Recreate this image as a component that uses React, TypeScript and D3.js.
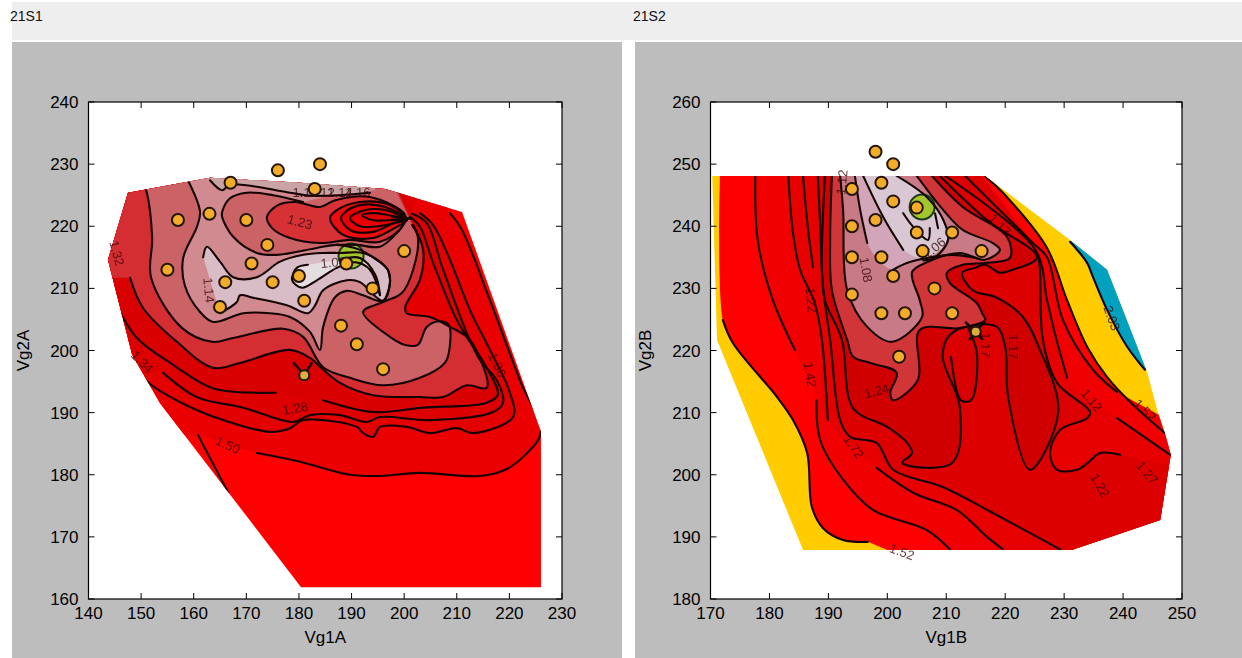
import React from "react";
import * as d3 from "d3";

type Pt = [number, number];
type Layer = { fill: string; a: Pt[]; close: Pt[]; b?: Pt[] };
type Lab = [string, number, number, number];

// ---------- Tick labels ----------
const xTicks1 = [140, 150, 160, 170, 180, 190, 200, 210, 220, 230];
const yTicks1 = [160, 170, 180, 190, 200, 210, 220, 230, 240];
const xTicks2 = [170, 180, 190, 200, 210, 220, 230, 240, 250];
const yTicks2 = [180, 190, 200, 210, 220, 230, 240, 250, 260];

// ---------- 21S1 (Vg1A, Vg2A) ----------
const points1: Pt[] = [[176, 229], [184, 230], [167, 227], [183, 226], [157, 221], [163, 222], [170, 221], [155, 213], [174, 217], [171, 214], [166, 211], [175, 211], [180, 212], [165, 207], [181, 208], [189, 214], [200, 216], [194, 210], [188, 204], [191, 201], [196, 197]];
const special1: Pt = [181, 196];
const green1: Pt = [189.9, 215.2];
const hull1: Pt[] = [[143.7, 214.6], [147.5, 225.4], [163.1, 227.8], [180.2, 227], [196.4, 226], [211, 222.3], [226, 186.9], [226, 161.9], [180.4, 161.9], [153.6, 191.5], [148.3, 199.3]];
const c1short: Pt[] = [[166.5, 177.2], [160.8, 186.4]];
const c1: Pt[] = [[172, 183.5], [180.2, 182.1], [189.7, 180], [195.4, 179.8], [203, 180.3], [214.4, 179.8], [219.2, 180.8], [223, 183.2], [226, 186.9], [222, 195.2], [216.3, 208.1], [211, 219.4], [208.7, 222.1]];
const c2: Pt[] = [[146.9, 199.8], [151.3, 194.9], [159.3, 190.9], [165.6, 188.8], [174.5, 186.9], [178.3, 187.5], [180.8, 188.8], [191, 187.7], [192.2, 186.7], [194.1, 186.1], [195.4, 187.7], [200.5, 187.7], [204.9, 186.7], [210, 187.5], [213.1, 186.7], [220.7, 189.3], [220.1, 193.2], [216.3, 200.1], [212.5, 206.5], [208.7, 214.6], [205.5, 220.2], [203, 222.1]];
const c3: Pt[] = [[154.2, 196.4], [160.6, 192.5], [169.4, 190.8], [178.9, 188.5], [182.1, 189.6], [187.8, 189.6], [192.9, 188.5], [195.4, 189.3], [204.9, 188.8], [216.9, 190.1], [218.8, 191.6], [217.6, 195.2], [214.4, 198.5], [211.9, 202.8], [207.2, 213.5], [204.3, 220.5], [201.5, 222]];
const c4a: Pt[] = [[145, 207.8], [149.2, 202], [156.1, 197.7], [163.7, 193.9], [175.6, 193.2]];
const c4b: Pt[] = [[184.6, 192], [194.1, 190.1], [203.6, 190.8], [215.7, 191.6], [217.8, 192.9], [215.7, 197.2], [211.9, 202.2], [210, 204.9], [205.5, 214.1], [203, 219.9], [201.1, 221.5]];
const c5: Pt[] = [[147.9, 211.7], [150.4, 206.8], [156.8, 201.4], [163.7, 197.2], [168.8, 198], [178.3, 200.1], [182.1, 198.8], [184, 197.4], [187.8, 194.8], [194.1, 192.8], [203, 192.5], [207.4, 192.5], [211.9, 194.4], [215.7, 194], [212.5, 201.7], [208.7, 203.8], [204.9, 205.4], [200.5, 206], [200.2, 207], [203, 211.4], [203.6, 216.2], [201.7, 220.2]];
const brightWedge: Pt[] = [[201.7, 220.2], [203.6, 216.2], [203, 211.4], [200.2, 207], [200.5, 206], [204.9, 205.4], [208.7, 203.8], [212.5, 201.7], [211.9, 202.2], [210, 204.9], [205.5, 214.1], [203, 219.9]];
const p1: Pt[] = [[150.2, 227.4], [151.1, 225.4], [152.1, 218.1], [151.9, 211.7], [157.8, 203.6], [163.5, 201.4], [167.5, 202], [177, 203.5], [180.8, 202.2], [184.6, 197.3], [189.7, 195.6], [196, 194.4], [203, 195.6], [207.8, 198.1], [208.7, 200.9], [208.5, 204.1], [206.8, 204.7], [204.3, 203.8], [202.6, 200.9], [200.2, 200.9], [197.3, 202.2], [192.2, 206.2], [196, 207.8], [199.6, 209.3], [201.7, 213], [202.6, 218.3], [201.5, 220.2]];
const p2: Pt[] = [[158.9, 227.4], [161.2, 222.3], [160.6, 219.9], [158, 214.9], [158.3, 210.5], [161.2, 206.2], [163.7, 204.6], [169.4, 206], [174.5, 206], [178.3, 205.4], [182.1, 203], [184, 200.1], [184.6, 203.8], [186.9, 208.6], [189.1, 209.6], [192.2, 208.9], [196, 208], [197.3, 210.9], [196.9, 213], [194.1, 215], [191.6, 216.2], [187.2, 217], [183.4, 216.5], [175.8, 215.4], [172, 215.7], [167.5, 218.3], [165.4, 221.5], [165.4, 222.3], [166.9, 224.5], [170.1, 225.4], [175.1, 225], [180.8, 223.9]];
const p2top: Pt[] = [[185.9, 224.9], [194.5, 225.8], [194.5, 232], [158.9, 232]];
const upperTail: Pt[] = [[187.2, 217], [191, 217], [195.4, 216.7], [198.6, 218.9], [199.6, 219.9]];
const topBand: Pt[] = [[163.1, 227.4], [165.4, 225.8], [166.9, 226.7], [178.3, 225.4], [182.5, 224.9], [193.5, 225.4]];
const whiteZone: Pt[] = [[161.8, 215], [162.5, 216.7], [165, 214.3], [167.5, 211.8], [172, 211.8], [176.4, 214.3], [180.8, 215.4], [184.6, 215.7], [187.8, 215.7], [192.2, 215.7], [195.4, 214.3], [196.9, 213], [197.3, 210.9], [196, 208], [194.8, 208.5], [191.6, 211], [189.1, 211.3], [184.6, 209.7], [183.1, 207.3], [181.7, 206], [177.7, 207.3], [171.3, 208.5], [168.8, 208.9], [168.2, 207.8], [165, 206]];
const inner1: Pt[] = [[181.7, 213.8], [179.6, 213.3], [178.7, 211.3], [180.6, 210.1], [183.4, 211.3], [187.2, 213.3], [190.7, 214.2], [193.5, 213], [195.4, 208.9], [194.5, 212.2], [191.6, 214.9], [187.8, 214.6]];
const warm1: Pt[] = [[173.9, 221.5], [176, 223.4], [179.3, 223.9], [184, 223.1], [186.9, 224.2], [193.5, 224.7], [200.2, 221.8], [199.6, 219.9], [195.4, 217.5], [189.7, 217.8], [184, 217.3], [178.3, 218.1], [174.9, 219.7]];
const ring1: Pt[] = [[185.9, 221.3], [188.4, 218.6], [194.1, 218.1], [198.6, 219.9], [200.5, 221], [197.3, 223.4], [191.6, 223.9], [187.2, 222.6]];
const ring2: Pt[] = [[188, 221.3], [189.7, 219.4], [194.1, 219.1], [198.3, 220.6], [200.5, 221], [196.4, 223.1], [191.6, 223.4], [188.8, 222.3]];
const ring3: Pt[] = [[189.7, 221.3], [191.6, 220], [195, 220], [199.2, 220.7], [200.5, 221], [196.4, 222.6], [192.6, 222.6]];
const ring4: Pt[] = [[192, 221.8], [193.9, 221], [198.3, 221], [200.5, 221], [196.4, 221.9], [193.5, 222.1]];
const focal1: Pt[] = [[197.7, 221.5], [201.5, 221.2]];
const star1a: Pt[] = [[178.9, 198.1], [181, 196.1], [182.5, 198.1]];
const labels1: Lab[] = [["1.23", 180.2, 220.7, 15], ["1.14", 162.9, 209.7, 85], ["1.32", 145.4, 215.7, 75], ["1.34", 150.2, 198.2, 45], ["1.50", 166.5, 184.8, 25], ["1.28", 179.3, 190.7, -10], ["1.36", 217.7, 197.7, 65], ["1.06", 186.5, 214.2, -5], ["1.11", 181.1, 225.4, 0], ["1.12", 184.4, 225.4, 0], ["1.14", 187.8, 225.4, 0], ["1.16", 191.2, 225.4, 0]];

// ---------- 21S2 (Vg1B, Vg2B) ----------
const points2: Pt[] = [[198, 252], [201, 250], [194, 246], [199, 247], [201, 244], [205, 243], [198, 241], [194, 240], [205, 239], [211, 239], [194, 235], [199, 235], [206, 236], [216, 236], [201, 232], [194, 229], [208, 230], [199, 226], [203, 226], [211, 226], [202, 219]];
const special2: Pt = [215, 223];
const green2: Pt = [205.9, 243.1];
const hull2: Pt[] = [[170.3, 248.1], [216.6, 248.1], [231, 237.8], [237.3, 233], [244.1, 216.5], [245.8, 210.4], [247.1, 206.7], [248.1, 203.2], [246.3, 192.7], [231.3, 187.9], [185.7, 187.9], [171.1, 221.7]];
const blueEdge: Pt[] = [[231, 237.5], [233.9, 234.1], [234.9, 231.8], [237.3, 226.5], [240.7, 220.6], [243.7, 216.9]];
const redUpper: Pt[] = [[216.6, 248.1], [220.3, 244.7], [227.1, 236.5], [230.5, 228.1], [233.9, 220.6], [237.3, 215.7], [241.2, 211.7], [247.1, 206.7]];
const redLower: Pt[] = [[196.7, 189.2], [192.5, 189.5], [189.1, 191.4], [187.2, 194.8], [186.4, 203.5], [184, 208.8], [181.3, 212.5], [173.8, 221.2], [172.1, 224.9]];
const r1: Pt[] = [[177.6, 248.1], [178, 237.8], [180.4, 228.6], [184.3, 220.1]];
const m1: Pt[] = [[188, 212], [188.6, 205.6], [192.5, 199.2], [197.6, 194.3], [206.7, 191.1], [210.6, 188]];
const r2: Pt[] = [[183.2, 248.1], [184, 238.9], [185.2, 233], [187.7, 227.6], [188.9, 221.7], [189.9, 208.8]];
const m2: Pt[] = [[198.2, 201.1], [204.4, 197.1], [211.8, 194.3], [216.9, 190], [219.6, 188]];
const m3: Pt[] = [[188.2, 248.1], [188.6, 240.5], [189.1, 230.2], [190.3, 221.7], [192, 208.8], [193.7, 206.1], [198.2, 205.1], [201, 200.8], [209.5, 198], [218, 193.8], [229.3, 188]];
const rShort: Pt[] = [[185.7, 248.1], [186.5, 239.9], [187.4, 233.4]];
const n1: Pt[] = [[213.2, 248.1], [224.7, 237.3], [227.1, 235], [229.8, 224.9], [234.9, 216.9], [239, 213.3]];
const n2a: Pt[] = [[209.8, 248.1], [225.1, 236.2], [227.1, 228.1], [228.5, 222.5], [230.5, 215.6]];
const n2b: Pt[] = [[239, 209.1], [248, 203.2]];
const n3: Pt[] = [[225.6, 235.4], [225.9, 233], [226.4, 221.7], [228.8, 214.8], [234.4, 210.1], [233.9, 209.1], [229.3, 207.2], [227.6, 203.5], [228.8, 200.8], [232.2, 200.8], [234, 201.9], [236.1, 203.5], [239.5, 203.2]];
const d2: Pt[] = [[189.4, 248.1], [188.9, 233], [189.4, 228.1], [192.3, 221.7], [194.2, 210.7], [200, 207.7], [203.4, 205.1], [204.2, 203.5], [202.5, 201.9], [211, 201.9], [212.3, 210.9], [209.4, 219], [210.6, 222.5], [214.9, 224.1], [218.6, 223.8], [220, 220.6], [220.5, 212.5], [224.2, 200.8], [229, 210.1], [225.9, 220.1], [223, 225.4], [218.6, 228.5], [214.5, 229.7], [212.7, 232.5], [214.9, 233.3], [216.6, 233.8], [219.1, 232.5], [221.3, 233], [225.4, 235], [216.9, 241], [208.9, 248.1]];
const finger: Pt[] = [[210.8, 219], [212.5, 212], [214.2, 212], [215.2, 219.5], [213.8, 223.5]];
const c5r: Pt[] = [[207.6, 248.1], [212.8, 243.1], [220.3, 238.3], [220.8, 234.9], [216.9, 234.1], [212.8, 233.8], [210.1, 232.5], [210.6, 230.9], [215.2, 227.6], [216.1, 226], [216.6, 224.9], [212.3, 223.6], [205.5, 223.3], [205.2, 215.3], [201, 212], [200.5, 213.2], [201.6, 216.4], [197.1, 218], [194.2, 219], [193.2, 221.7], [190.6, 229.7], [190.3, 237.8], [190.6, 248.1]];
const pk1: Pt[] = [[205, 248.1], [209.5, 242.6], [212.8, 239.4], [217.9, 237.3], [219.1, 236.2], [216.6, 234.6], [212.3, 235.7], [206.7, 234.2], [204.2, 232.6], [205.5, 228.1], [205.9, 225.4], [200.8, 221.4], [196.6, 223.8], [193.2, 229.7], [192.5, 242.6], [192, 248.1]];
const lt1: Pt[] = [[194.5, 248.1], [195.4, 242.6], [196.6, 237.3], [198.8, 234.2], [201, 233], [203.3, 234.1], [206.7, 234.9], [208.9, 236.2], [210.3, 237.8], [209.5, 241], [206.7, 244.7], [201.6, 248.1]];
const lt2: Pt[] = [[195.9, 248.1], [199.3, 241.5], [202.7, 236.2], [206.4, 234.9], [210.3, 237.8], [209.5, 241], [206.7, 244.7], [201.6, 248.1]];
const s1: Pt[] = [[194.5, 248.1], [195.4, 242.6], [196.6, 237.3]];
const s2: Pt[] = [[201, 233], [203.3, 234.1], [206.7, 234.9], [211, 235.4], [215.1, 234.9]];
const s3: Pt[] = [[201.6, 248.1], [206.7, 244.7], [209.5, 241], [210.3, 237.8], [208.1, 235], [206.1, 234.5]];
const s4: Pt[] = [[195.9, 248.1], [199.3, 241.5], [202.7, 236.2]];
const s5: Pt[] = [[202.7, 242.1], [204.4, 239.9], [206.9, 237.8], [207.2, 239.7]];
const s6: Pt[] = [[208.1, 242.1], [208.6, 239.7]];
const star2a: Pt[] = [[213.2, 224.6], [214.9, 223.1], [216.6, 224.6]];
const star2b: Pt[] = [[213.9, 221.7], [214.9, 223.1], [216.2, 221.7]];
const labels2: Lab[] = [["1.12", 192.3, 247.1, -85], ["1.06", 207.9, 236.5, -40], ["1.08", 196.4, 233, 80], ["1.17", 221.4, 220.6, 90], ["1.22", 187.1, 228.1, 85], ["1.42", 186.9, 216.1, 80], ["1.72", 194.3, 204.5, 55], ["1.24", 198.2, 213.5, -15], ["1.12", 234.7, 212, 50], ["1.22", 236.1, 198.3, 60], ["1.52", 243.7, 210.4, 45], ["1.27", 244.1, 200.3, 50], ["1.52", 202.5, 187.6, 20], ["2.03", 238.1, 225.2, 70], ["1.17", 219.1, 240.2, 45], ["1.17", 216.6, 220.9, 90]];

const FONT = "'Liberation Sans', Arial, sans-serif";
const LINE = "#140404";

function Panel(props: any) {
  const { box, xd, yd, xt, yt, xl, yl, hull, layers, lines, extraLines, labels, pts, green, special, star, id } = props;
  const x = d3.scaleLinear().domain(xd).range([box.x0, box.x1]);
  const y = d3.scaleLinear().domain(yd).range([box.y1, box.y0]);
  const curve = d3.line<Pt>().x((p) => x(p[0])).y((p) => y(p[1])).curve(d3.curveCatmullRom.alpha(0.5));
  const poly = d3.line<Pt>().x((p) => x(p[0])).y((p) => y(p[1]));
  const closedCurve = d3.line<Pt>().x((p) => x(p[0])).y((p) => y(p[1])).curve(d3.curveCatmullRomClosed.alpha(0.5));
  const area = (l: Layer) => {
    let s = curve(l.a) as string;
    s += l.close.map((p) => `L${x(p[0])},${y(p[1])}`).join("");
    if (l.b) s += (curve(l.b) as string).replace(/^M/, "L");
    return s + "Z";
  };
  const w = box.x1 - box.x0;
  return (
    <g>
      <rect x={box.x0} y={box.y0} width={w} height={box.y1 - box.y0} fill="#fff" />
      <clipPath id={id}><path d={(poly(hull) as string) + "Z"} /></clipPath>
      <g filter="url(#soft)">
        <g clipPath={`url(#${id})`}>
          {layers.map((l: Layer, i: number) => <path key={i} d={area(l)} fill={l.fill} />)}
        </g>
        {green.map((g: Pt, i: number) => <circle key={i} cx={x(g[0])} cy={y(g[1])} r={12.5} fill="#a3c52f" stroke="#1c3a12" strokeWidth={2} />)}
        <g clipPath={`url(#${id})`} fill="none" stroke={LINE} strokeWidth={2.1} strokeLinejoin="round" strokeLinecap="round">
          {lines.map((l: Pt[], i: number) => <path key={i} d={curve(l) as string} />)}
          {extraLines.map((l: Pt[], i: number) => <path key={i} d={closedCurve(l) as string} />)}
        </g>
        {labels.map((l: Lab, i: number) => (
          <text key={i} transform={`translate(${x(l[1])},${y(l[2])}) rotate(${l[3]})`} textAnchor="middle" dy="0.35em" fontFamily={FONT} fontSize={13} fill="#3a0808" fillOpacity={0.8}>{l[0]}</text>
        ))}
        {pts.map((p: Pt, i: number) => <circle key={i} cx={x(p[0])} cy={y(p[1])} r={6} fill="#f3ab2c" stroke="#241400" strokeWidth={2} />)}
        <g fill="none" stroke={LINE} strokeWidth={2.5}>
          {star.map((l: Pt[], i: number) => <path key={i} d={poly(l) as string} />)}
        </g>
        <circle cx={x(special[0])} cy={y(special[1])} r={5} fill="#d8b040" stroke="#241400" strokeWidth={2} />
      </g>
      <rect x={box.x0} y={box.y0} width={w} height={box.y1 - box.y0} fill="none" stroke="#000" strokeWidth={1.2} />
      {xt.map((t: number) => (
        <g key={t} stroke="#000" strokeWidth={1}>
          <line x1={x(t)} x2={x(t)} y1={box.y1} y2={box.y1 - 6} />
          <line x1={x(t)} x2={x(t)} y1={box.y0} y2={box.y0 + 6} />
        </g>
      ))}
      {yt.map((t: number) => (
        <g key={t} stroke="#000" strokeWidth={1}>
          <line x1={box.x0} x2={box.x0 + 6} y1={y(t)} y2={y(t)} />
          <line x1={box.x1} x2={box.x1 - 6} y1={y(t)} y2={y(t)} />
        </g>
      ))}
      <g fontFamily={FONT} fontSize={17} fill="#000">
        {xt.map((t: number) => <text key={t} x={x(t)} y={box.y1 + 20} textAnchor="middle">{t}</text>)}
        {yt.map((t: number) => <text key={t} x={box.x0 - 10} y={y(t) + 6} textAnchor="end">{t}</text>)}
        <text x={(box.x0 + box.x1) / 2} y={box.y1 + 44} textAnchor="middle">{xl}</text>
        <text transform={`translate(${box.x0 - 60},${(box.y0 + box.y1) / 2}) rotate(-90)`} textAnchor="middle">{yl}</text>
      </g>
    </g>
  );
}

export default function App() {
  const top = 232;
  const layers1: Layer[] = [
    { fill: "#ff0000", a: [[135, 232], [235, 232]], close: [[235, 150], [135, 150]] },
    { fill: "#ea0000", a: [c1short[1], ...c1], close: [[208, top], [135, top], [135, 186.4]] },
    { fill: "#e20000", a: c2, close: [[200, top], [135, top], [135, 199.8]] },
    { fill: "#dc0000", a: c3, close: [[198, top], [135, top], [135, 203]] },
    { fill: "#d80202", a: [...c4a, ...c4b], close: [[196.5, top], [135, top], [135, 207.8]] },
    { fill: "#d42e30", a: c5, close: [[195.5, top], [135, top], [135, 211.7]] },
    { fill: "#e40404", a: brightWedge, close: [] },
    { fill: "#cb6266", a: p1, close: [[195, top], [150.2, top]] },
    { fill: "#d08a90", a: p2, close: p2top },
    { fill: "#c8a4a6", a: topBand, close: [[193.5, top], [163.1, top]] },
    { fill: "#d8bcc6", a: whiteZone, close: [] },
    { fill: "#e4dee2", a: inner1, close: [] },
    { fill: "#d63236", a: warm1, close: [] },
    { fill: "#ea0808", a: ring1, close: [] },
    { fill: "#e60000", a: ring2, close: [] },
    { fill: "#e80404", a: ring3, close: [] },
    { fill: "#e00000", a: ring4, close: [] },
  ];
  const lines1: Pt[][] = [c1short, c1, c2, c3, c4a, c4b, c5, p1, p2, upperTail, topBand, whiteZone.slice(0, 12), whiteZone.slice(11), inner1.slice(0, 9), inner1.slice(8), focal1, focal1];
  const layers2: Layer[] = [
    { fill: "#ffcc00", a: [[160, 260], [260, 260]], close: [[260, 170], [160, 170]] },
    { fill: "#00a0bf", a: blueEdge, close: [[250, 216.5], [240, 245]] },
    { fill: "#ff0000", a: redUpper, close: [[249, 203], [246.3, 192.7], [231.3, 187.9], [200, 187.9]], b: [...redLower, [171.6, 248.1]] },
    { fill: "#f00000", a: [...r1, ...m1], close: [[210.6, 180], [255, 180], [255, 205]], b: [[239, 213.3], [234.9, 216.9], [229.8, 224.9], [227.1, 235], [224.7, 237.3], [213.2, 248.1]] },
    { fill: "#e60000", a: [...r2, ...m2], close: [[219.6, 180], [255, 180], [255, 203.2]], b: [...[...n2b].reverse(), ...[...n2a].reverse()] },
    { fill: "#dc0000", a: m3, close: [[229.3, 180], [255, 180], [255, 200]], b: [...[...n3].reverse(), [216, 248.1]] },
    { fill: "#d00000", a: d2, close: [] },
    { fill: "#d80000", a: finger, close: [] },
    { fill: "#d23638", a: c5r, close: [] },
    { fill: "#c87a86", a: pk1, close: [] },
    { fill: "#d2a6b8", a: lt1, close: [] },
    { fill: "#d9c8d4", a: lt2, close: [] },
  ];
  const lines2: Pt[][] = [blueEdge, redUpper, redLower, r1, m1, r2, m2, m3, rShort, n1, n2a, n2b, n3, finger, d2, c5r, pk1, s1, s2, s3, s4, s5, s6];
  return (
    <svg width={1242} height={658} style={{ position: "absolute", left: 0, top: 0, display: "block", background: "#fff" }}>
      <defs>
        <filter id="soft" x="-5%" y="-5%" width="110%" height="110%"><feGaussianBlur stdDeviation={0.6} /></filter>
      </defs>
      <rect x={12} y={2} width={1230} height={38} fill="#eeeeee" />
      <rect x={12} y={42} width={610} height={616} fill="#bdbdbd" />
      <rect x={635} y={42} width={607} height={616} fill="#bdbdbd" />
      <text x={10} y={21} fontFamily={FONT} fontSize={14} fill="#111">21S1</text>
      <text x={633} y={21} fontFamily={FONT} fontSize={14} fill="#111">21S2</text>
      <Panel id="cl1" box={{ x0: 88.5, x1: 562, y0: 102, y1: 599 }} xd={[140, 230]} yd={[160, 240]} xt={xTicks1} yt={yTicks1} xl="Vg1A" yl="Vg2A"
        hull={hull1} layers={layers1} lines={lines1} extraLines={[warm1, ring1, ring2, ring3, ring4]} labels={labels1} pts={points1} green={[green1]} special={special1} star={[star1a]} />
      <Panel id="cl2" box={{ x0: 710.5, x1: 1182, y0: 102, y1: 599 }} xd={[170, 250]} yd={[180, 260]} xt={xTicks2} yt={yTicks2} xl="Vg1B" yl="Vg2B"
        hull={hull2} layers={layers2} lines={lines2} extraLines={[]} labels={labels2} pts={points2} green={[green2]} special={special2} star={[star2a, star2b]} />
    </svg>
  );
}
